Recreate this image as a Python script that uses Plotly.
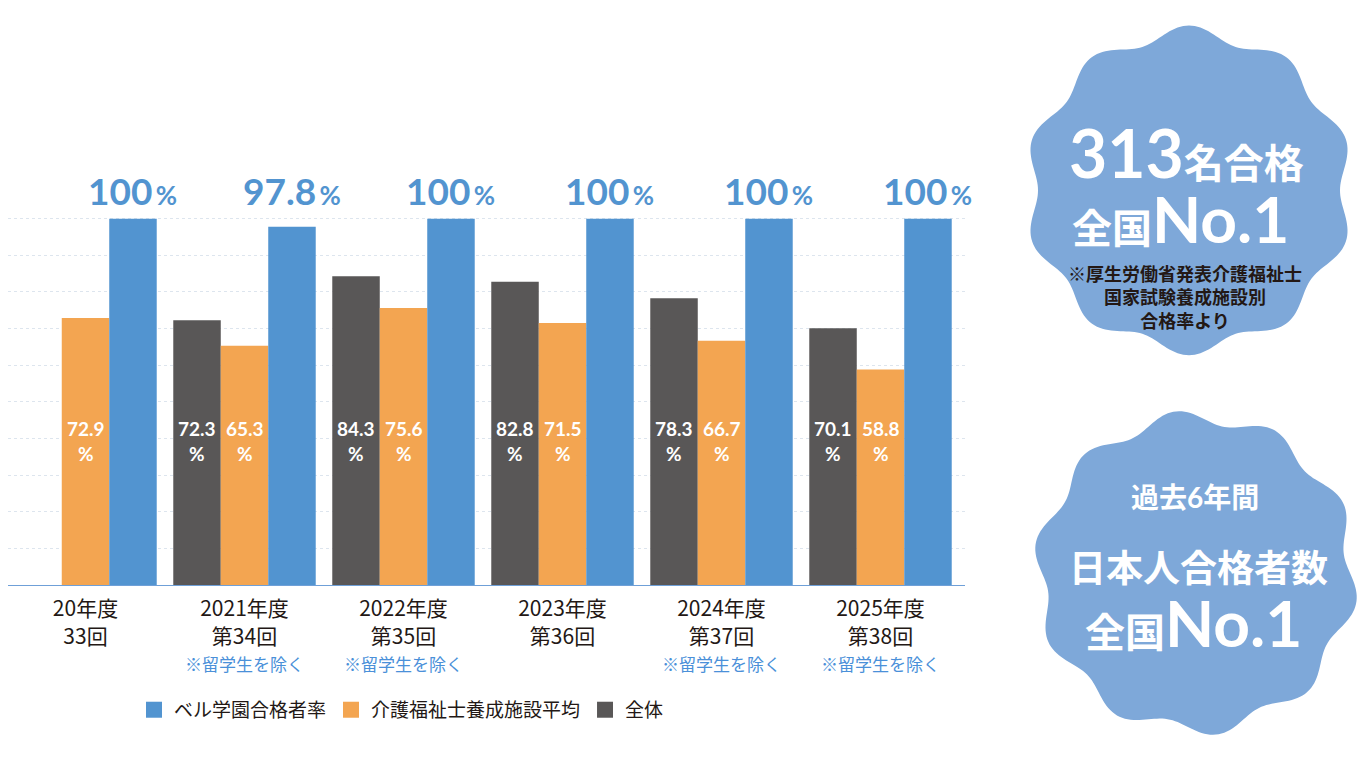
import numpy as np
import plotly.graph_objects as go

# ---------------- data ----------------
categories = ["20年度<br>33回",
              "2021年度<br>第34回",
              "2022年度<br>第35回",
              "2023年度<br>第36回",
              "2024年度<br>第37回",
              "2025年度<br>第38回"]
notes = ["", "※留学生を除く", "※留学生を除く", "", "※留学生を除く", "※留学生を除く"]
bell_rate = [100, 97.8, 100, 100, 100, 100]          # ベル学園合格者率
school_avg = [72.9, 65.3, 75.6, 71.5, 66.7, 58.8]    # 介護福祉士養成施設平均
overall = [None, 72.3, 84.3, 82.8, 78.3, 70.1]       # 全体
series_names = ["全体", "介護福祉士養成施設平均", "ベル学園合格者率"]

# ---------------- style ----------------
C_BLUE = "#5294d0"
C_ORANGE = "#f3a551"
C_GRAY = "#595757"
C_TEXT = "#231815"
C_BADGE = "#7ea8d9"
C_NOTE = "#4a90d9"
JP = "Noto Sans CJK JP"
NUM = "Lato, 'Noto Sans CJK JP'"

OFF = 8                      # page body margin
W, H = 1350, 760
PXU = 3.667                  # pixels per percentage point
YMAX = 101
ML = 0
PLOT_RIGHT = 965 - OFF
BASE = 585 - OFF
MB = H - BASE
MT = BASE - YMAX * PXU
MR = W - PLOT_RIGHT
PW, PH = W - ML - MR, H - MT - MB
BARGAP = 0.104
BW = (1 - BARGAP) / 3
X0 = (ML + OFF - 85.5) / 159
X1 = (965 - 85.5) / 159


def px(xp):
    return (xp - OFF - ML) / PW


def py(yp):
    return (BASE - (yp - OFF)) / PH


xs = list(range(len(categories)))
ticktext = [c + ("<br><span style='color:%s;font-size:17px'>%s</span>" % (C_NOTE, n) if n else "")
            for c, n in zip(categories, notes)]

series = list(zip(series_names, [overall, school_avg, bell_rate], [C_GRAY, C_ORANGE, C_BLUE]))

fig = go.Figure()
for name, vals, col in series:
    fig.add_trace(go.Bar(x=xs, y=vals, name=name, legendgroup=name, showlegend=False,
                         marker=dict(color=col, line=dict(width=0)), hoverinfo="skip"))
# legend entries (square swatches)
for name, vals, col in reversed(series):
    fig.add_trace(go.Scatter(x=[None], y=[None], mode="markers", name=name, legendgroup=name,
                             marker=dict(symbol="square", size=16, color=col), hoverinfo="skip"))

annotations = []
# top labels for ベル学園
for i, v in enumerate(bell_rate):
    annotations.append(dict(
        x=i + BW, y=100, xref="x", yref="y", yanchor="bottom", xanchor="center", yshift=4,
        text="<b>%s<span style='font-size:26px'>\u2009%%</span></b>" % (f"{v:g}"),
        showarrow=False, font=dict(family=NUM, size=37, color=C_BLUE)))
# inside labels
for j, vals in enumerate([overall, school_avg]):
    off = -BW if j == 0 else 0
    for i, v in enumerate(vals):
        if v is None:
            continue
        annotations.append(dict(
            x=i + off, y=39.3, xref="x", yref="y", yanchor="middle", xanchor="center",
            text="<b>%s<br>%%</b>" % v, showarrow=False,
            font=dict(family=NUM, size=19, color="white")))

# badges
shapes = []
def badge(cx, cy, R, A, n, phase):
    t = np.linspace(0, 2 * np.pi, 361)
    r = R + A * np.cos(n * (t - phase))
    xx = cx + r * np.sin(t)
    yy = cy - r * np.cos(t)
    d = "M " + " L ".join("%.5f,%.5f" % (px(a), py(b)) for a, b in zip(xx, yy)) + " Z"
    return dict(type="path", path=d, xref="paper", yref="paper",
                fillcolor=C_BADGE, line=dict(width=0), layer="below")

shapes.append(badge(1189, 190, 158, 7, 10, 0.0))
shapes.append(badge(1196, 573, 156, 7, 10, 0.5))

def ann(xp, yp, text, size, color="white", family=JP, xanchor="center"):
    annotations.append(dict(x=px(xp), y=py(yp), xref="paper", yref="paper", xanchor=xanchor,
                            yanchor="middle", text=text, showarrow=False,
                            font=dict(family=family, size=size, color=color)))

ann(1186, 152, "<b>313<span style='font-size:40px'>名合格</span></b>", 66, family=NUM)
ann(1180, 218, "<b>全国<span style='font-size:64px'>No.1</span></b>", 40, family=NUM)
ann(1185, 296, "<b>※厚生労働省発表介護福祉士<br>国家試験養成施設別<br>合格率より</b>", 18, color=C_TEXT)

ann(1195, 497, "<b>過去6年間</b>", 28, family=NUM)
ann(1198, 566, "<b>日本人合格者数</b>", 37)
ann(1193, 623, "<b>全国<span style='font-size:64px'>No.1</span></b>", 40, family=NUM)

fig.update_layout(
    width=W, height=H,
    margin=dict(l=ML, r=MR, t=MT, b=MB, pad=0),
    paper_bgcolor="white", plot_bgcolor="white",
    barmode="group", bargap=BARGAP, bargroupgap=0,
    showlegend=True,
    legend=dict(orientation="h", x=px(134), y=py(710), xanchor="left", yanchor="middle",
                traceorder="normal", font=dict(family=JP, size=19, color=C_TEXT),
                itemclick=False, itemdoubleclick=False, bgcolor="rgba(0,0,0,0)"),
    xaxis=dict(range=[X0, X1], tickmode="array", tickvals=xs, ticktext=ticktext,
               showgrid=False, zeroline=False, showline=True, linecolor="#6fa0d8", linewidth=1,
               ticks="", ticklabelstandoff=5,
               tickfont=dict(family=JP, size=21, color=C_TEXT), fixedrange=True),
    yaxis=dict(range=[0, YMAX], tickmode="array", tickvals=list(range(10, 101, 10)),
               showgrid=True, gridcolor="#dde5ee", griddash="dot",
               gridwidth=1, zeroline=False, showticklabels=False, ticks="", fixedrange=True),
    annotations=annotations,
    shapes=shapes,
)

fig.write_html("out.html", config={"displayModeBar": False})
